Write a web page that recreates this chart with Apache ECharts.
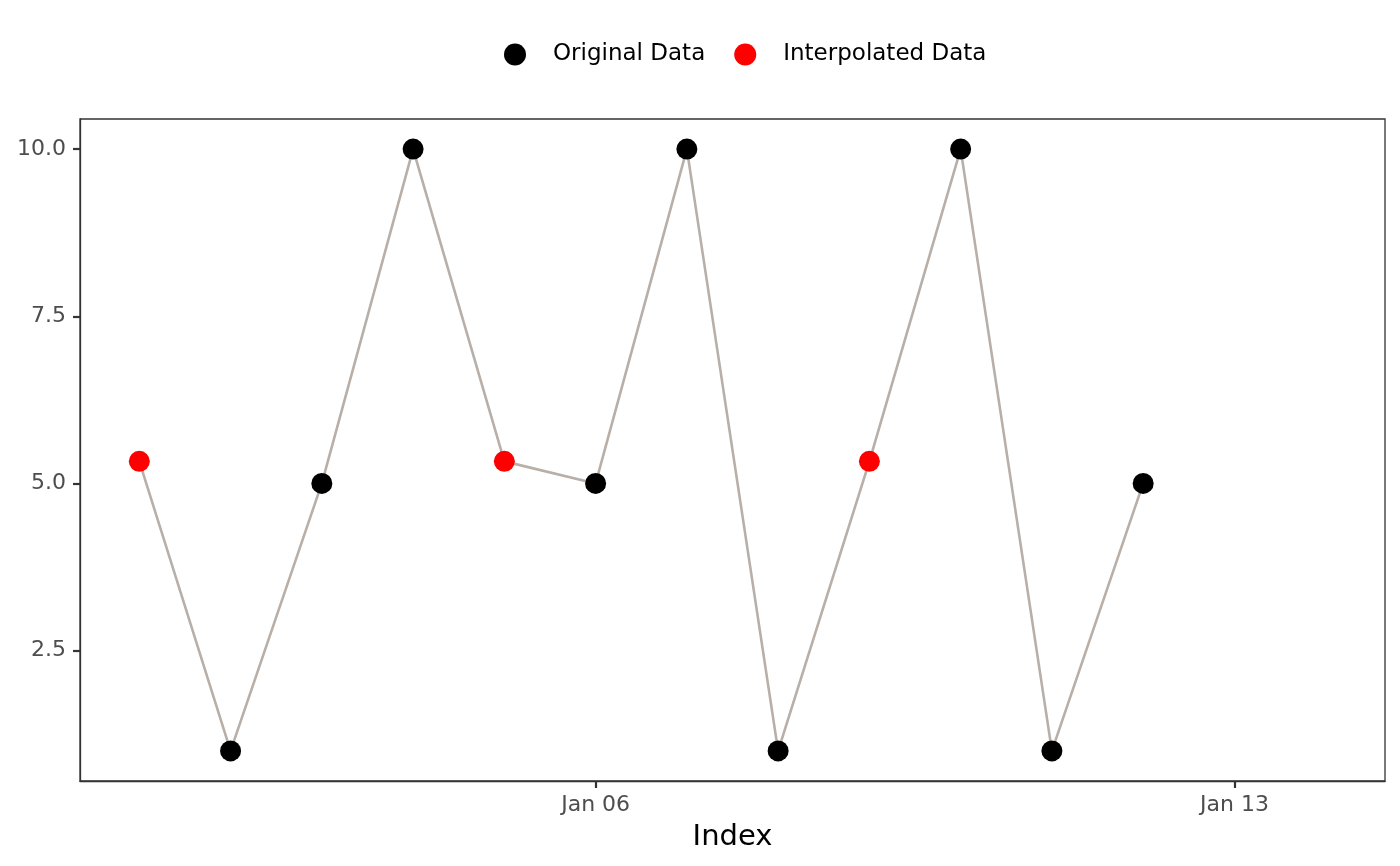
<!DOCTYPE html>
<html>
<head>
<meta charset="utf-8">
<script src="https://cdn.jsdelivr.net/npm/echarts@6/dist/echarts.min.js"></script>
<style>
html,body{margin:0;padding:0;background:#fff;}
#chart{width:1400px;height:866px;}
</style>
</head>
<body>
<div id="chart"></div>
<script>
// Data
const dates = ['2024-01-01','2024-01-02','2024-01-03','2024-01-04','2024-01-05','2024-01-06',
               '2024-01-07','2024-01-08','2024-01-09','2024-01-10','2024-01-11','2024-01-12'];
const values = [5.33, 1, 5, 10, 5.33, 5, 10, 1, 5.33, 10, 1, 5];
const interpolated = [true, false, false, false, true, false, false, false, true, false, false, false];
const xTickDates = ['2024-01-06', '2024-01-13'];
const xTickLabels = ['Jan 06', 'Jan 13'];
const yTicks = [2.5, 5.0, 7.5, 10.0];

const base = Date.parse('2024-01-01');
const dayNum = d => (Date.parse(d) - base) / 86400000 + 1;

const lineData = dates.map((d, i) => [dayNum(d), values[i]]);
const origData = dates.map((d, i) => interpolated[i] ? null : [dayNum(d), values[i]]).filter(Boolean);
const interpData = dates.map((d, i) => interpolated[i] ? [dayNum(d), values[i]] : null).filter(Boolean);
const xTickVals = xTickDates.map(dayNum);

const chart = echarts.init(document.getElementById('chart'));
const font = 'DejaVu Sans';
chart.setOption({
  animation: false,
  backgroundColor: '#fff',
  textStyle: { fontFamily: font },
  legend: {
    top: 38,
    left: 499,
    itemWidth: 22,
    itemHeight: 22,
    itemGap: 29,
    icon: 'circle',
    textStyle: { fontFamily: font, fontSize: 23, color: '#000', padding: [0, 0, 0, 22] },
    data: ['Original Data', 'Interpolated Data']
  },
  grid: {
    left: 80, right: 15, top: 119, bottom: 85,
    show: true, borderColor: '#333', borderWidth: 1.3, backgroundColor: '#fff'
  },
  xAxis: {
    type: 'value',
    min: 0.35, max: 14.65,
    name: 'Index',
    nameLocation: 'middle',
    nameGap: 42,
    nameTextStyle: { fontFamily: font, fontSize: 29, color: '#000' },
    axisLine: { show: true, lineStyle: { color: '#333', width: 1.3 } },
    axisTick: { show: true, length: 7, lineStyle: { color: '#333', width: 2.2 }, customValues: xTickVals },
    axisLabel: {
      fontFamily: font, fontSize: 22, color: '#4D4D4D', margin: 13,
      customValues: xTickVals,
      formatter: v => { const k = xTickVals.indexOf(v); return k >= 0 ? xTickLabels[k] : ''; }
    },
    splitLine: { show: false }
  },
  yAxis: {
    type: 'value',
    min: 0.55, max: 10.45,
    axisLine: { show: true, lineStyle: { color: '#333', width: 1.3 } },
    axisTick: { show: true, length: 7, lineStyle: { color: '#333', width: 2.2 }, customValues: yTicks },
    axisLabel: {
      fontFamily: font, fontSize: 22, color: '#4D4D4D', margin: 14,
      customValues: yTicks,
      formatter: v => v.toFixed(1)
    },
    splitLine: { show: false }
  },
  series: [
    {
      name: 'line', type: 'line', data: lineData, showSymbol: false, symbol: 'none',
      lineStyle: { color: '#B8AFA8', width: 2.6 }, z: 1, silent: true
    },
    {
      name: 'Original Data', type: 'scatter', data: origData, symbolSize: 21,
      itemStyle: { color: '#000', opacity: 1 }, z: 3
    },
    {
      name: 'Interpolated Data', type: 'scatter', data: interpData, symbolSize: 21,
      itemStyle: { color: '#FF0000', opacity: 1 }, z: 3
    }
  ]
});
</script>
</body>
</html>
